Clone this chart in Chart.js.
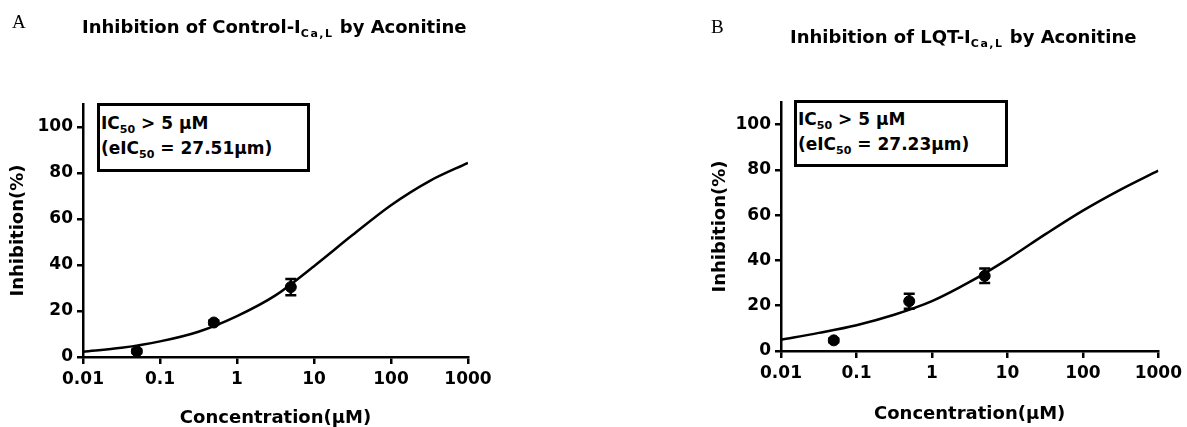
<!DOCTYPE html>
<html>
<head>
<meta charset="utf-8">
<script src="https://cdn.jsdelivr.net/npm/chart.js@4/dist/chart.umd.min.js"></script>
<style>
  html, body { margin: 0; padding: 0; background: #fff; }
  #wrap { position: relative; width: 1187px; height: 427px; overflow: hidden; background: #fff; }
  .panel { position: absolute; top: 0; height: 427px; }
  .letter { position: absolute; font: 19px/19px "Liberation Serif", serif; color: #000; }
  .title { position: absolute; font: bold 18px/18px "DejaVu Sans", sans-serif; color: #000; white-space: nowrap; }
  .title sub { font-size: 11px; line-height: 0; letter-spacing: 1.5px; vertical-align: -4px; }
  .box {
    position: absolute; box-sizing: border-box; border: 3px solid #000; background: #fff;
    font: bold 17px/25px "DejaVu Sans", sans-serif; color: #000; padding-left: 1px; white-space: nowrap;
  }
  .box sub { font-size: 11px; line-height: 0; vertical-align: -4px; }
</style>
</head>
<body>
<div id="wrap">
  <div class="panel" style="left:0;width:560px"><canvas id="chartA"></canvas></div>
  <div class="panel" style="left:698px;width:489px"><canvas id="chartB"></canvas></div>

  <div class="letter" style="left:12px;top:12px">A</div>
  <div class="title" style="left:82px;top:18px">Inhibition of Control-I<sub>Ca,L</sub> by Aconitine</div>
  <div class="box" style="left:97px;top:103px;width:213px;height:69px;padding-top:5px">IC<sub>50</sub> &gt; 5 μM<br>(eIC<sub>50</sub> = 27.51μm)</div>

  <div class="letter" style="left:711px;top:17px">B</div>
  <div class="title" style="left:790px;top:28px">Inhibition of LQT-I<sub>Ca,L</sub> by Aconitine</div>
  <div class="box" style="left:794px;top:100px;width:214px;height:67px;padding-top:4px">IC<sub>50</sub> &gt; 5 μM<br>(eIC<sub>50</sub> = 27.23μm)</div>
</div>

<script>
// Axis ticks
const xTicks = [0.01, 0.1, 1, 10, 100, 1000];
const xTickLabels = ['0.01', '0.1', '1', '10', '100', '1000'];
const yTicks = [0, 20, 40, 60, 80, 100];
const yTickLabels = ['0', '20', '40', '60', '80', '100'];

// Fitted curves, every half decade
const curveConc = [0.01, 0.0316, 0.1, 0.316, 1, 3.16, 10, 31.6, 100, 316, 1000];
const controlCurve = [2.3, 4, 6.8, 11, 17.8, 26.8, 39.5, 53, 66, 76.5, 84.4];
const lqtCurve = [5, 8, 11.4, 16, 22, 30.5, 40.5, 51.5, 62, 71.3, 79.7];

// Measured points (mean +/- SEM)
const doseConc = [0.05, 0.5, 5];
const controlMean = [2.5, 15, 30.4];
const controlSem = [0.8, 0.9, 3.5];
const lqtMean = [4.7, 22, 33.2];
const lqtSem = [0.8, 3.3, 3.2];

Chart.defaults.font.family = '"DejaVu Sans", sans-serif';
Chart.defaults.font.weight = 'bold';
Chart.defaults.color = '#000';

// Draws vertical error bars with caps for datasets carrying yErr
const errorBarPlugin = {
  id: 'errorBars',
  afterDatasetsDraw(chart) {
    const { ctx } = chart;
    const x = chart.scales.x;
    const y = chart.scales.y;
    ctx.save();
    ctx.strokeStyle = '#000';
    ctx.lineWidth = 2.5;
    chart.data.datasets.forEach((ds) => {
      if (!ds.yErr) return;
      ds.data.forEach((pt, i) => {
        const px = x.getPixelForValue(pt.x);
        const top = y.getPixelForValue(pt.y + ds.yErr[i]);
        const bot = y.getPixelForValue(pt.y - ds.yErr[i]);
        ctx.beginPath();
        ctx.moveTo(px, top); ctx.lineTo(px, bot);
        ctx.moveTo(px - 5.5, top); ctx.lineTo(px + 5.5, top);
        ctx.moveTo(px - 5.5, bot); ctx.lineTo(px + 5.5, bot);
        ctx.stroke();
      });
    });
    ctx.restore();
  },
};

function makePanel(id, curve, mean, sem, opts) {
  const ctx = document.getElementById(id).getContext('2d');
  return new Chart(ctx, {
    type: 'scatter',
    data: {
      datasets: [
        {
          label: 'Fit',
          data: curveConc.map((c, i) => ({ x: c, y: curve[i] })),
          showLine: true,
          borderColor: '#000',
          borderWidth: 2.5,
          pointRadius: 0,
          cubicInterpolationMode: 'monotone',
          fill: false,
        },
        {
          label: 'Mean',
          data: doseConc.map((c, i) => ({ x: c, y: mean[i] })),
          showLine: false,
          pointRadius: 5.5,
          pointBackgroundColor: '#000',
          pointBorderColor: '#000',
          yErr: sem,
        },
      ],
    },
    options: {
      responsive: true,
      maintainAspectRatio: false,
      animation: false,
      layout: { padding: { left: 0, top: opts.top, right: opts.right, bottom: 0 } },
      plugins: { legend: { display: false }, tooltip: { enabled: false } },
      scales: {
        x: {
          type: 'logarithmic',
          min: 0.01,
          max: 1000,
          afterBuildTicks: (scale) => { scale.ticks = xTicks.map((v) => ({ value: v })); },
          afterFit: (scale) => { scale.height = opts.xHeight; },
          ticks: {
            autoSkip: false,
            maxRotation: 0,
            padding: 5,
            font: { size: 17 },
            callback: (v, i) => xTickLabels[i],
          },
          grid: { drawOnChartArea: false, tickLength: 7, color: '#000', lineWidth: 2.5 },
          border: { color: '#000', width: 2.5 },
          title: {
            display: true,
            text: 'Concentration(μM)',
            font: { size: 18, lineHeight: 1 },
            padding: { top: 0, bottom: opts.xTitlePad },
          },
        },
        y: {
          min: 0,
          max: 110,
          afterBuildTicks: (scale) => { scale.ticks = yTicks.map((v) => ({ value: v })); },
          afterFit: (scale) => { scale.width = 83; },
          ticks: { padding: 4, font: { size: 17 }, callback: (v, i) => yTickLabels[i] },
          grid: { drawOnChartArea: false, tickLength: 6, color: '#000', lineWidth: 2.5 },
          border: { color: '#000', width: 2.5 },
          title: {
            display: true,
            text: 'Inhibition(%)',
            font: { size: 18 },
            padding: { top: opts.yTitlePad, bottom: 0 },
          },
        },
      },
    },
    plugins: [errorBarPlugin],
  });
}

makePanel('chartA', controlCurve, controlMean, controlSem,
  { top: 104, right: 92, xHeight: 70, xTitlePad: 0, yTitlePad: 8 });
makePanel('chartB', lqtCurve, lqtMean, lqtSem,
  { top: 102, right: 26, xHeight: 76, xTitlePad: 4, yTitlePad: 12 });
</script>
</body>
</html>
